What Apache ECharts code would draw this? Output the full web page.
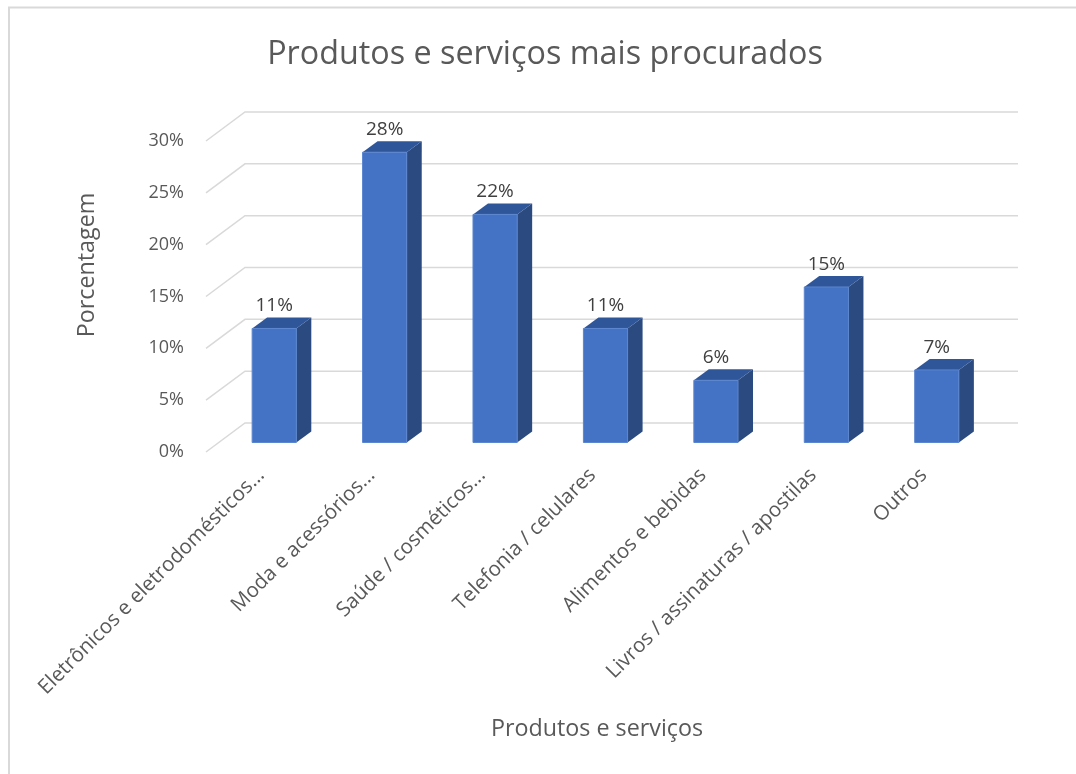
<!DOCTYPE html>
<html>
<head>
<meta charset="utf-8">
<script src="https://cdn.jsdelivr.net/npm/echarts@6/dist/echarts.min.js"></script>
<style>
html,body{margin:0;padding:0;background:#fff;}
#chart{width:1076px;height:774px;}
</style>
</head>
<body>
<div id="chart"></div>
<script>
const categories = [
  "Eletrônicos e eletrodomésticos...",
  "Moda e acessórios...",
  "Saúde / cosméticos...",
  "Telefonia / celulares",
  "Alimentos e bebidas",
  "Livros / assinaturas / apostilas",
  "Outros"
];
const values = [11, 28, 22, 11, 6, 15, 7];
const yTicks = [0, 5, 10, 15, 20, 25, 30];
const titleText = "Produtos e serviços mais procurados";
const xTitle = "Produtos e serviços";
const yTitle = "Porcentagem";

const FONT = "'Open Sans', sans-serif";
// depth geometry (pixels)
const BAR_OFF = [13, -9.5];   // front plane -> bar front face plane
const BAR_DEPTH = [15, -11];  // bar depth
const WALL_OFF = [39, -29];   // front plane -> back wall

const chart = echarts.init(document.getElementById('chart'), null, {renderer: 'canvas'});

function renderBar(params, api) {
  const i = api.value(0), v = api.value(1);
  const p0 = api.coord([i, 0]);
  const p1 = api.coord([i, v]);
  const bw = api.size([1, 0])[0] * 0.4;
  const cx = p0[0] + BAR_OFF[0];
  const bottom = p0[1] + BAR_OFF[1];
  const top = p1[1] + BAR_OFF[1];
  const l = cx - bw / 2, r = cx + bw / 2;
  const dx = BAR_DEPTH[0], dy = BAR_DEPTH[1];
  return {
    type: 'group',
    children: [
      {type: 'polygon', shape: {points: [[r, bottom], [r, top], [r + dx, top + dy], [r + dx, bottom + dy]]},
       style: {fill: '#2a4a80'}},
      {type: 'polygon', shape: {points: [[l, top], [r, top], [r + dx, top + dy], [l + dx, top + dy]]},
       style: {fill: '#30569a'}},
      {type: 'rect', shape: {x: l, y: top, width: bw, height: bottom - top},
       style: {fill: '#4472c4', stroke: '#5b86d0', lineWidth: 1}},
      {type: 'text', x: cx, y: top + dy - 2,
       style: {text: v + '%', fill: '#404040', font: '19px ' + FONT, align: 'center', verticalAlign: 'bottom'}}
    ]
  };
}

function renderWall(params, api) {
  const v = api.value(0);
  const cs = params.coordSys;
  const p = api.coord([0, v]);
  const y = p[1];
  const xl = cs.x, xr = cs.x + cs.width;
  return {
    type: 'polyline',
    shape: {points: [[xl, y], [xl + WALL_OFF[0], y + WALL_OFF[1]], [xr + WALL_OFF[0], y + WALL_OFF[1]]]},
    style: {stroke: '#d9d9d9', lineWidth: 1.5, fill: null}
  };
}

const option = {
  backgroundColor: '#fff',
  animation: false,
  grid: {left: 206, right: 97, top: 141, bottom: 322, containLabel: false},
  xAxis: {
    type: 'category', data: categories,
    axisLine: {show: false}, axisTick: {show: false},
    axisLabel: {interval: 0, rotate: 45, margin: 20, color: '#595959', fontFamily: FONT, fontSize: 20.5}
  },
  yAxis: {
    type: 'value', min: 0, max: 30, interval: 5,
    axisLine: {show: false}, axisTick: {show: false}, splitLine: {show: false},
    axisLabel: {formatter: '{value}%', margin: 22, color: '#595959', fontFamily: FONT, fontSize: 18}
  },
  graphic: [
    {type: 'polyline', shape: {points: [[9, 800], [9, 7.5], [1100, 7.5]]}, style: {stroke: '#d9d9d9', lineWidth: 2, fill: null}},
    {type: 'text', x: 545, y: 55, style: {text: titleText, font: '32.3px ' + FONT, fill: '#595959', align: 'center', verticalAlign: 'middle'}},
    {type: 'text', x: 597, y: 729, style: {text: xTitle, font: '23.3px ' + FONT, fill: '#595959', align: 'center', verticalAlign: 'middle'}},
    {type: 'text', x: 87, y: 265, rotation: Math.PI / 2, style: {text: yTitle, font: '23.3px ' + FONT, fill: '#595959', align: 'center', verticalAlign: 'middle'}}
  ],
  series: [
    {type: 'custom', renderItem: renderWall, data: yTicks.map(t => [t]), encode: {y: 0}, silent: true, z: 1},
    {type: 'custom', renderItem: renderBar, data: values.map((v, i) => [i, v]), encode: {x: 0, y: 1}, z: 2}
  ]
};
chart.setOption(option);
</script>
</body>
</html>
